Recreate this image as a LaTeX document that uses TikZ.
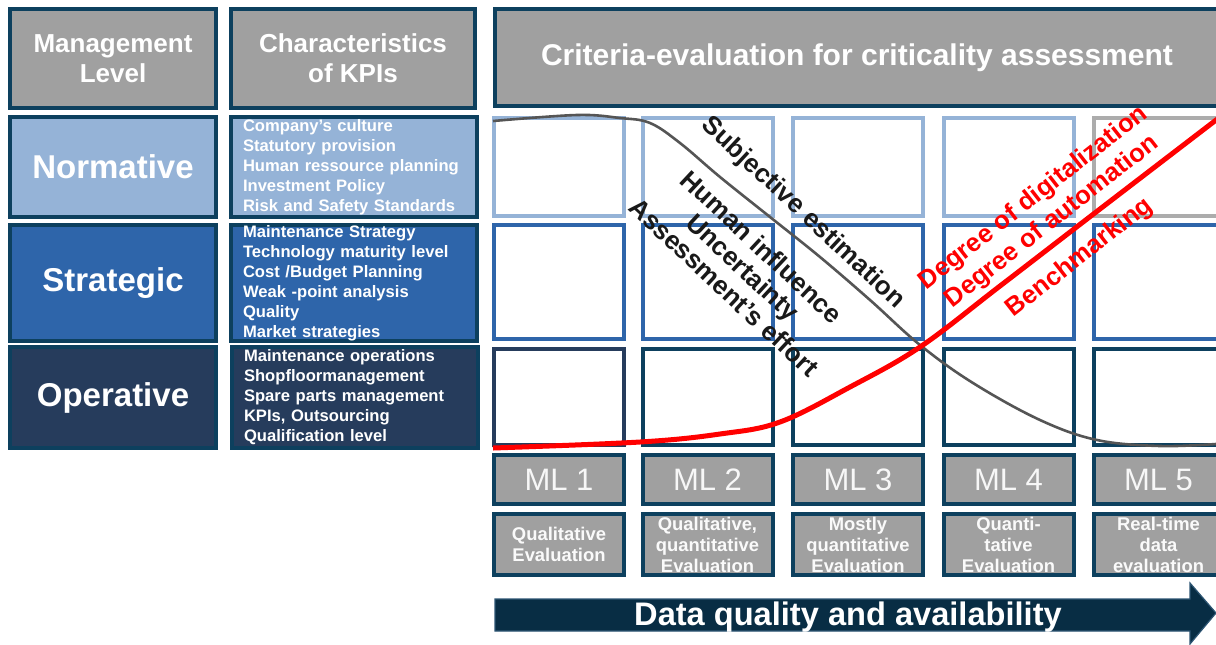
\documentclass[tikz,border=0pt]{standalone}
\usepackage{fontspec}
\setmainfont{Liberation Sans}

\definecolor{navy}{RGB}{13,64,94}
\definecolor{headgray}{RGB}{160,160,160}
\definecolor{normfill}{RGB}{149,179,215}
\definecolor{stratfill}{RGB}{46,101,170}
\definecolor{operfill}{RGB}{38,60,92}
\definecolor{lastline}{RGB}{172,172,172}
\definecolor{curvegray}{RGB}{85,85,85}
\definecolor{arrowfill}{RGB}{8,45,68}
\definecolor{arrowedge}{RGB}{45,85,115}

\tikzset{
    frame/.style={draw=navy, line width=2pt, inner sep=0pt, text=white, font=\bfseries},
    head/.style={frame, fill=headgray, align=center},
    level/.style={frame, minimum width=103pt, font=\bfseries\fontsize{16.5}{20}\selectfont},
    kpis/.style={frame, minimum width=123pt, text width=111pt, inner xsep=6pt,
        align=left, font=\bfseries\fontsize{8.3}{10}\selectfont},
    cell/.style={line width=2pt, fill=white, minimum width=65pt},
    mlbox/.style={frame, fill=headgray, minimum width=65pt, minimum height=24.5pt,
        text=white!94!gray, font=\fontsize{15.5}{18}\selectfont},
    evalbox/.style={frame, fill=headgray, minimum width=65pt, minimum height=30.5pt,
        align=center, text=white!96!gray, font=\bfseries\fontsize{9.2}{10.5}\selectfont},
    falling/.style={rotate=-43, align=center, text=black!90, font=\bfseries\fontsize{13}{13.8}\selectfont},
    rising/.style={rotate=38, align=center, text=red, font=\bfseries\fontsize{12.8}{15}\selectfont}
}

\begin{document}
\begin{tikzpicture}[x=0.5pt,y=-0.5pt]
\useasboundingbox (0,0) rectangle (1216,644);
\clip (0,0) rectangle (1216,644);

% Column heads
\node[head, minimum width=103pt, minimum height=49.5pt,
    font=\bfseries\fontsize{13}{15}\selectfont] (mgmt) at (113,58.5) {Management\\Level};
\node[head, minimum width=122pt, minimum height=49.5pt,
    font=\bfseries\fontsize{13}{15}\selectfont] (kpihead) at (353,58.5) {Characteristics\\of KPIs};
\node[head, minimum width=362pt, minimum height=48.5pt,
    font=\bfseries\fontsize{15}{18}\selectfont] (criteria) at (857,57.5)
    {Criteria-evaluation for criticality assessment};

% Management levels
\node[level, fill=normfill, minimum height=50pt] (normative) at (113,167) {Normative};
\node[level, fill=stratfill, minimum height=58pt] (strategic) at (113,283) {Strategic};
\node[level, fill=operfill, minimum height=50.5pt] (operative) at (113,397.5) {Operative};

% KPI lists
\node[kpis, fill=normfill, minimum height=50pt] (normkpi) at (354,167)
    {Company's culture\\Statutory provision\\Human ressource planning\\Investment Policy\\Risk and Safety Standards};
\node[kpis, fill=stratfill, minimum height=58pt] (stratkpi) at (354,283)
    {Maintenance Strategy\\Technology maturity level\\Cost /Budget Planning\\Weak -point analysis\\Quality\\Market strategies};
\node[kpis, fill=operfill, minimum height=50.5pt] (operkpi) at (355,397.5)
    {Maintenance operations\\Shopfloormanagement\\Spare parts management\\KPIs, Outsourcing\\Qualification level};

% Grid and maturity levels
\foreach \cx/\topline/\lowline [count=\i] in {559/normfill/operfill,707.5/normfill/navy,
        858/normfill/navy,1008.5/normfill/navy,1158.5/lastline/navy}{
    \node[cell, draw=\topline, minimum height=49pt] (top\i) at (\cx,167) {};
    \node[cell, draw=stratfill, minimum height=57pt] (mid\i) at (\cx,282) {};
    \node[cell, draw=\lowline, minimum height=48pt] (low\i) at (\cx,397) {};
    \node[mlbox] (ml\i) at (\cx,479.5) {ML \i};
}

% Evaluation type
\node[evalbox] (eval1) at (559,544.5) {Qualitative\\Evaluation};
\node[evalbox] (eval2) at (707.5,544.5) {Qualitative,\\quantitative\\Evaluation};
\node[evalbox] (eval3) at (858,544.5) {Mostly\\quantitative\\Evaluation};
\node[evalbox] (eval4) at (1008.5,544.5) {Quanti-\\tative\\Evaluation};
\node[evalbox] (eval5) at (1158.5,544.5) {Real-time\\data\\evaluation};

% Falling curve
\draw[curvegray, line width=1.3pt] plot[smooth, tension=0.6] coordinates
    {(493,121) (577,115) (620,118) (650,123) (680,143) (720,177) (770,217) (820,257)
     (870,300) (920,345) (973,383) (1040,420) (1097,440) (1160,446) (1216,444)};

% Rising curve
\draw[red, line width=2.5pt] plot[smooth, tension=0.6] coordinates
    {(493,448) (640,442) (720,434) (780,422) (850,387) (920,347) (1000,286) (1100,209) (1220,117)};

% Curve labels
\node[falling] (subjective) at (803,213) {Subjective estimation};
\node[falling] (human) at (743,267) {Human influence\\Uncertainty\\Assessment's effort};
\node[rising] (digital) at (1043,210) {Degree of digitalization\\Degree of automation};
\node[rising] (bench) at (1080,258) {Benchmarking};

% Data arrow
\filldraw[fill=arrowfill, draw=arrowedge, line width=0.6pt]
    (495,599) -- (1190,599) -- (1190,583) -- (1216,613) -- (1190,644) -- (1190,631) -- (495,631) -- cycle;
\node[anchor=base, text=white, font=\bfseries\fontsize{16.3}{19}\selectfont] (dataq) at (848,625)
    {Data quality and availability};

\end{tikzpicture}
\end{document}
